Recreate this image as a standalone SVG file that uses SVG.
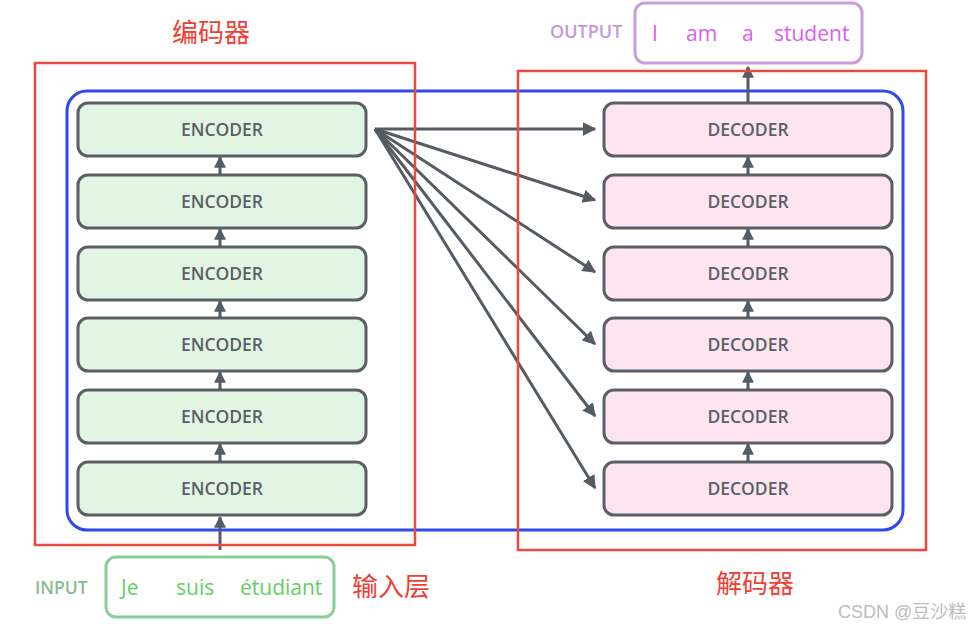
<svg xmlns="http://www.w3.org/2000/svg" width="968" height="629" viewBox="0 0 968 629">
<defs>
<marker id="ah" viewBox="0 0 10 10" refX="9" refY="5" markerWidth="4.5" markerHeight="4.5" orient="auto" markerUnits="strokeWidth">
<path d="M0,0 L10,5 L0,10 z" fill="#555b62"/>
</marker>
<marker id="ahs" viewBox="0 0 10 10" refX="9" refY="5" markerWidth="4" markerHeight="4" orient="auto" markerUnits="strokeWidth">
<path d="M0,0 L10,5 L0,10 z" fill="#555b62"/>
</marker>
</defs>
<style>
.enc{fill:#e2f5e2;stroke:#5a5f66;stroke-width:3}
.dec{fill:#fde4f0;stroke:#5a5f66;stroke-width:3}
.lbl{font-family:"Open Sans","Noto Sans",sans-serif;font-size:17.5px;font-weight:600;fill:#5a6067;text-anchor:middle}
.con{stroke:#555b62;stroke-width:3;fill:none}
.cn{font-family:"Noto Sans CJK SC",sans-serif;font-size:26px;fill:#ee4035}
.red{fill:none;stroke:#ea4a3c;stroke-width:2.5}
</style>
<rect width="968" height="629" fill="#ffffff"/>
<rect x="67" y="91" width="836" height="439" rx="20" fill="none" stroke="#2f48ef" stroke-width="3"/>
<g id="encoders">
<g id="enc1"><rect class="enc" x="78" y="103" width="288" height="53" rx="10"/><text class="lbl" x="222" y="136">ENCODER</text></g>
<g id="enc2"><rect class="enc" x="78" y="175" width="288" height="53" rx="10"/><text class="lbl" x="222" y="208">ENCODER</text></g>
<g id="enc3"><rect class="enc" x="78" y="247" width="288" height="53" rx="10"/><text class="lbl" x="222" y="280">ENCODER</text></g>
<g id="enc4"><rect class="enc" x="78" y="318" width="288" height="53" rx="10"/><text class="lbl" x="222" y="351">ENCODER</text></g>
<g id="enc5"><rect class="enc" x="78" y="390" width="288" height="53" rx="10"/><text class="lbl" x="222" y="423">ENCODER</text></g>
<g id="enc6"><rect class="enc" x="78" y="462" width="288" height="53" rx="10"/><text class="lbl" x="222" y="495">ENCODER</text></g>
</g>
<g id="decoders">
<g id="dec1"><rect class="dec" x="604" y="103" width="288" height="53" rx="10"/><text class="lbl" x="748" y="136">DECODER</text></g>
<g id="dec2"><rect class="dec" x="604" y="175" width="288" height="53" rx="10"/><text class="lbl" x="748" y="208">DECODER</text></g>
<g id="dec3"><rect class="dec" x="604" y="247" width="288" height="53" rx="10"/><text class="lbl" x="748" y="280">DECODER</text></g>
<g id="dec4"><rect class="dec" x="604" y="318" width="288" height="53" rx="10"/><text class="lbl" x="748" y="351">DECODER</text></g>
<g id="dec5"><rect class="dec" x="604" y="390" width="288" height="53" rx="10"/><text class="lbl" x="748" y="423">DECODER</text></g>
<g id="dec6"><rect class="dec" x="604" y="462" width="288" height="53" rx="10"/><text class="lbl" x="748" y="495">DECODER</text></g>
</g>
<g id="input">
<text x="35" y="594" font-family="'Open Sans','Noto Sans',sans-serif" font-size="17.5" font-weight="600" fill="#86bd94">INPUT</text>
<rect x="106" y="557" width="228" height="60" rx="10" fill="#ffffff" stroke="#88cf9a" stroke-width="3"/>
<g font-family="'Open Sans','Noto Sans',sans-serif" font-size="21" fill="#62cf62">
<text x="121" y="595">Je</text><text x="176" y="595">suis</text><text x="240" y="595">étudiant</text>
</g>
</g>
<g id="output">
<text x="550" y="38" font-family="'Open Sans','Noto Sans',sans-serif" font-size="18" font-weight="600" fill="#cb95da">OUTPUT</text>
<rect x="635" y="3" width="227" height="60" rx="10" fill="#ffffff" stroke="#cc9ddb" stroke-width="3"/>
<g font-family="'Open Sans','Noto Sans',sans-serif" font-size="21" fill="#d65ef0">
<text x="652" y="41">I</text><text x="686" y="41">am</text><text x="742" y="41">a</text><text x="774" y="41">student</text>
</g>
</g>
<g id="connectors">
<line class="con" x1="220" y1="550" x2="220" y2="517" marker-end="url(#ahs)"/>
<line class="con" x1="220" y1="462" x2="220" y2="444" marker-end="url(#ahs)"/>
<line class="con" x1="220" y1="390" x2="220" y2="372" marker-end="url(#ahs)"/>
<line class="con" x1="220" y1="318" x2="220" y2="301" marker-end="url(#ahs)"/>
<line class="con" x1="220" y1="247" x2="220" y2="229" marker-end="url(#ahs)"/>
<line class="con" x1="220" y1="175" x2="220" y2="157" marker-end="url(#ahs)"/>
<line class="con" x1="748" y1="462" x2="748" y2="444" marker-end="url(#ahs)"/>
<line class="con" x1="748" y1="390" x2="748" y2="372" marker-end="url(#ahs)"/>
<line class="con" x1="748" y1="318" x2="748" y2="301" marker-end="url(#ahs)"/>
<line class="con" x1="748" y1="247" x2="748" y2="229" marker-end="url(#ahs)"/>
<line class="con" x1="748" y1="175" x2="748" y2="157" marker-end="url(#ahs)"/>
<line class="con" x1="748" y1="103" x2="748" y2="67" marker-end="url(#ahs)"/>
<line class="con" x1="375" y1="129" x2="595" y2="129" marker-end="url(#ah)"/>
<line class="con" x1="375" y1="129" x2="595" y2="200" marker-end="url(#ah)"/>
<line class="con" x1="375" y1="129" x2="595" y2="272" marker-end="url(#ah)"/>
<line class="con" x1="375" y1="129" x2="595" y2="344" marker-end="url(#ah)"/>
<line class="con" x1="375" y1="129" x2="595" y2="416" marker-end="url(#ah)"/>
<line class="con" x1="375" y1="129" x2="595" y2="488" marker-end="url(#ah)"/>
</g>
<g id="annotations">
<rect class="red" x="35" y="63" width="380" height="482"/>
<rect class="red" x="518" y="71" width="408" height="479"/>
<text class="cn" x="172" y="42">编码器</text>
<text class="cn" x="352" y="596">输入层</text>
<text class="cn" x="716" y="593">解码器</text>
<text x="838" y="618" font-family="'Liberation Sans','Noto Sans CJK SC',sans-serif" font-size="18" fill="#bdbdbd">CSDN @豆沙糕</text>
</g>
</svg>
